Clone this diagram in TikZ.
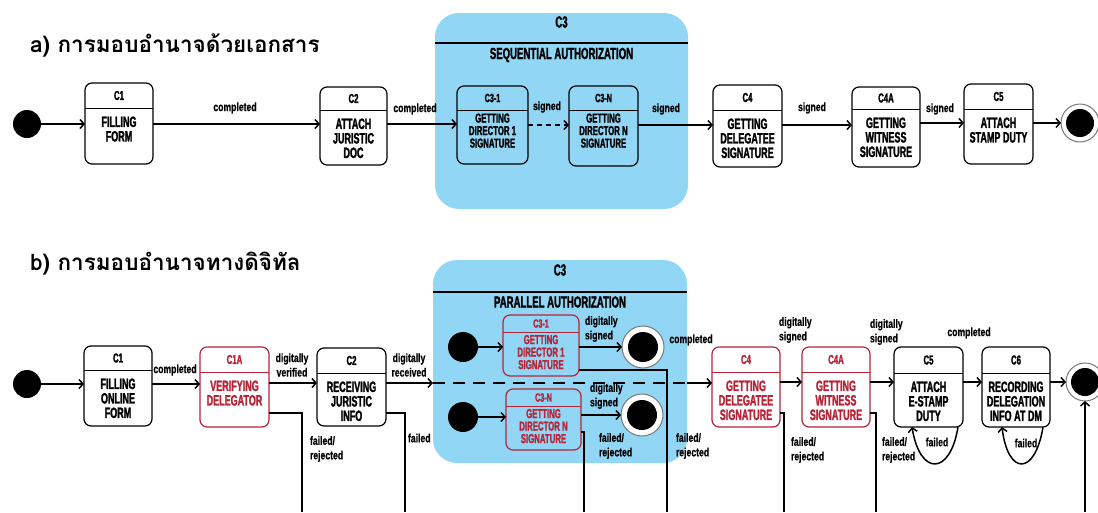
\documentclass[tikz,border=0pt]{standalone}
\usepackage{fontspec}
\usetikzlibrary{arrows.meta}
\newfontfamily\din{Liberation Sans}[FakeStretch=0.6, BoldFeatures={FakeBold=1.6}]
\newfontfamily\dinlbl{Liberation Sans}[FakeStretch=0.72, BoldFeatures={FakeBold=0.6}]
\newfontfamily\thaifont[Script=Thai]{Loma}
\definecolor{c3blue}{RGB}{146,214,245}
\definecolor{errred}{RGB}{183,36,56}
\definecolor{ringgray}{RGB}{120,120,120}

% state box: name, centre x, top y, width, height, divider offset, colour style, header
\newcommand{\stbox}[8]{%
  \node[stframe, #7, minimum width=#4, minimum height=#5, anchor=north] (#1) at (#2,#3) {};
  \coordinate (#1-d) at ([yshift=-#6]#1.north);
  \draw[#7, line width=1pt] (#1.west |- #1-d) -- (#1.east |- #1-d);
  \node[hdr, #7] (#1-h) at ([yshift={-#6/2}]#1.north) {#8};
}
% final state: outer ring and inner dot
\newcommand{\finst}[4]{%
  \node[circle, draw=ringgray, line width=1pt, fill=white, minimum size=#3] (#1) at #2 {};
  \node[circle, fill=black, minimum size=#4] (#1-in) at (#1.center) {};
}

\begin{document}
\begin{tikzpicture}[
  x=1pt, y=-1pt,
  every node/.style={inner sep=0pt, outer sep=0pt},
  stframe/.style={draw, rounded corners=7pt, line width=1.2pt},
  blackst/.style={color=black},
  redst/.style={color=errred},
  hdr/.style={font=\din\bfseries\fontsize{13}{13}\selectfont},
  body/.style={anchor=north, align=center, font=\din\bfseries\fontsize{15}{14.5}\selectfont},
  smallbody/.style={anchor=north, align=center, font=\din\bfseries\fontsize{13}{12.5}\selectfont},
  bighdr/.style={font=\din\bfseries\fontsize{16}{16}\selectfont},
  lbl/.style={align=center, font=\dinlbl\bfseries\fontsize{12}{14.5}\selectfont},
  lbll/.style={lbl, align=left, anchor=west},
  initst/.style={circle, fill=black, minimum size=#1},
  initst/.default=28pt,
  arr/.style={line width=1.5pt, -{Straight Barb[length=4pt,width=9pt]}},
  wire/.style={line width=1.5pt},
  container/.style={fill=c3blue, rounded corners=24pt, minimum width=#1},
  heading/.style={anchor=west, font=\thaifont\bfseries\fontsize{22.5}{22.5}\selectfont},
]
\useasboundingbox (0,0) rectangle (1098,512);

% ================= a) paper-based delegation =================
\node[heading] (ttla) at (30,45) {a) การมอบอำนาจด้วยเอกสาร};

\node[container=253pt, minimum height=196pt] (c3a) at (561.5,111) {};
\draw[line width=1.2pt] (c3a.west |- 0,43) -- (c3a.east |- 0,43);
\node[bighdr] (c3a-h) at (561.5,22) {C3};
\node[bighdr] (c3a-t) at (561.5,55) {SEQUENTIAL AUTHORIZATION};

\node[initst] (ia) at (27,124) {};

\stbox{c1a}{119}{83}{68}{81}{25}{blackst}{C1}
\node[body] (c1a-b) at ([yshift=-8.5]c1a-d) {FILLING\\FORM};

\stbox{c2a}{353.5}{87}{67}{78}{23}{blackst}{C2}
\node[body] (c2a-b) at ([yshift=-8.5]c2a-d) {ATTACH\\JURISTIC\\DOC};

\stbox{c31a}{492.5}{86}{71}{78}{24}{blackst}{\fontsize{12}{12}\selectfont C3-1}
\node[smallbody] (c31a-b) at ([yshift=-3.5]c31a-d) {GETTING\\DIRECTOR 1\\SIGNATURE};

\stbox{c3na}{603.5}{86}{69}{80}{24}{blackst}{\fontsize{12}{12}\selectfont C3-N}
\node[smallbody] (c3na-b) at ([yshift=-3.5]c3na-d) {GETTING\\DIRECTOR N\\SIGNATURE};

\stbox{c4a}{747.5}{85}{69}{82}{25}{blackst}{C4}
\node[body] (c4a-b) at ([yshift=-8.5]c4a-d) {GETTING\\DELEGATEE\\SIGNATURE};

\stbox{c4xa}{886}{87}{68}{80}{22}{blackst}{C4A}
\node[body] (c4xa-b) at ([yshift=-8.5]c4xa-d) {GETTING\\WITNESS\\SIGNATURE};

\stbox{c5a}{998.5}{84}{69}{80}{25}{blackst}{C5}
\node[body] (c5a-b) at ([yshift=-8.5]c5a-d) {ATTACH\\STAMP DUTY};

\finst{fa}{(1080,123)}{38pt}{28pt}

\draw[arr] (ia.east) -- (c1a.west |- ia.east);
\draw[arr] (c1a.east |- 0,124) -- (c2a.west |- 0,124);
\draw[arr] (c2a.east |- 0,124) -- (c31a.west |- 0,124);
\draw[arr, dash pattern=on 5pt off 4pt] (c31a.east |- 0,125) -- (c3na.west |- 0,125);
\draw[arr] (c3na.east |- 0,125) -- (c4a.west |- 0,125);
\draw[arr] (c4a.east |- 0,125) -- (c4xa.west |- 0,125);
\draw[arr] (c4xa.east |- 0,123) -- (c5a.west |- 0,123);
\draw[arr] (c5a.east |- fa.west) -- (fa.west);

\node[lbl] (la1) at (235,108) {completed};
\node[lbl] (la2) at (415,109) {completed};
\node[lbl] (la3) at (547,107) {signed};
\node[lbl] (la4) at (666,109) {signed};
\node[lbl] (la5) at (812,108) {signed};
\node[lbl] (la6) at (940,109) {signed};

% ================= b) digital delegation =================
\node[heading] (ttlb) at (30,264) {b) การมอบอำนาจทางดิจิทัล};

\node[container=254pt, minimum height=203pt] (c3b) at (560,361.5) {};
\draw[line width=1.2pt] (c3b.west |- 0,292) -- (c3b.east |- 0,292);
\node[bighdr] (c3b-h) at (560,270) {C3};
\node[bighdr] (c3b-t) at (560,302) {PARALLEL AUTHORIZATION};

\node[initst] (ib) at (27,384) {};

\stbox{c1b}{118}{346}{68}{80}{24}{blackst}{C1}
\node[body] (c1b-b) at ([yshift=-8.5]c1b-d) {FILLING\\ONLINE\\FORM};

\stbox{c1xb}{234.5}{347}{69}{80}{25}{redst}{C1A}
\node[body, redst] (c1xb-b) at ([yshift=-8.5]c1xb-d) {VERIFYING\\DELEGATOR};

\stbox{c2b}{351.5}{348}{69}{78}{25}{blackst}{C2}
\node[body] (c2b-b) at ([yshift=-8.5]c2b-d) {RECEIVING\\JURISTIC\\INFO};

% parallel branches inside C3
\node[initst=30pt] (i1b) at (463,347) {};
\stbox{c31b}{541}{315}{76}{61}{17}{redst}{\fontsize{12}{12}\selectfont C3-1}
\node[smallbody, redst] (c31b-b) at ([yshift=-3]c31b-d) {GETTING\\DIRECTOR 1\\SIGNATURE};
\finst{f1b}{(643,347)}{42pt}{30pt}

\node[initst=30pt] (i2b) at (463,417) {};
\stbox{c3nb}{543.5}{389}{75}{61}{17}{redst}{\fontsize{12}{12}\selectfont C3-N}
\node[smallbody, redst] (c3nb-b) at ([yshift=-3]c3nb-d) {GETTING\\DIRECTOR N\\SIGNATURE};
\finst{f2b}{(642,415)}{42pt}{30pt}

\stbox{c4b}{746}{347}{68}{80}{25}{redst}{C4}
\node[body, redst] (c4b-b) at ([yshift=-8.5]c4b-d) {GETTING\\DELEGATEE\\SIGNATURE};

\stbox{c4xb}{836}{347}{68}{80}{25}{redst}{C4A}
\node[body, redst] (c4xb-b) at ([yshift=-8.5]c4xb-d) {GETTING\\WITNESS\\SIGNATURE};

\stbox{c5b}{928.5}{347}{69}{80}{26}{blackst}{C5}
\node[body] (c5b-b) at ([yshift=-8.5]c5b-d) {ATTACH\\E-STAMP\\DUTY};

\stbox{c6b}{1016}{347}{68}{80}{26}{blackst}{C6}
\node[body] (c6b-b) at ([yshift=-8.5]c6b-d) {RECORDING\\DELEGATION\\INFO AT DM};

\finst{fb}{(1085,382)}{38pt}{28pt}

% exits running off the lower edge
\coordinate (x1) at (302,512);
\coordinate (x2) at (405,512);
\coordinate (x3) at (584,512);
\coordinate (x4) at (667,512);
\coordinate (x5) at (784,512);
\coordinate (x6) at (876,512);
\coordinate (x7) at (1085,512);

% main flow
\draw[arr] (ib.east) -- (c1b.west |- ib.east);
\draw[arr] (c1b.east |- 0,384) -- (c1xb.west |- 0,384);
\draw[arr] (c1xb.east |- 0,383) -- (c2b.west |- 0,383);
\draw[arr] (c2b.east |- 0,383) -- (c3b.west |- 0,383);
\draw[wire, dash pattern=on 12pt off 8pt] (c3b.west |- 0,383) -- (c3b.east |- 0,383);
\draw[arr] (c3b.east |- 0,383) -- (c4b.west |- 0,383);
\draw[arr] (c4b.east |- 0,382) -- (c4xb.west |- 0,382);
\draw[arr] (c4xb.east |- 0,382) -- (c5b.west |- 0,382);
\draw[arr] (c5b.east |- 0,382) -- (c6b.west |- 0,382);
\draw[arr] (c6b.east |- fb.west) -- (fb.west);

% inside C3
\draw[arr] (i1b.east) -- (c31b.west |- i1b.east);
\draw[arr] (c31b.east |- f1b.west) -- (f1b.west);
\draw[arr] (i2b.east) -- (c3nb.west |- i2b.east);
\draw[arr] (c3nb.east |- f2b.west) -- (f2b.west);

% failure exits
\draw[wire] (c1xb.east |- 0,413) -| (x1);
\draw[wire] (c2b.east |- 0,413) -| (x2);
\draw[wire] (c3nb.east |- 0,432) -| (x3);
\draw[wire] (c31b.east |- 0,370) -| (x4);
\draw[wire] (c4b.east |- 0,413) -| (x5);
\draw[wire] (c4xb.east |- 0,413) -| (x6);
\draw[arr] (x7) -- (fb.south);

% retry loops
\draw[arr] ([xshift=-5]c5b.south east) .. controls (950,476) and (920,476) .. ([xshift=18]c5b.south west);
\draw[arr] ([xshift=-7]c6b.south east) .. controls (1035,476) and (1008,476) .. ([xshift=20]c6b.south west);

% transition labels
\node[lbl] (lb1) at (175,370) {completed};
\node[lbl] (lb2) at (292,365) {digitally\\verified};
\node[lbl] (lb3) at (409,365) {digitally\\received};
\node[lbll] (lb4) at (310,449) {failed/\\rejected};
\node[lbll] (lb5) at (408,438) {failed};
\node[lbll] (lb6) at (585,329) {digitally\\signed};
\node[lbll] (lb7) at (590,396) {digitally\\signed};
\node[lbll] (lb8) at (599,446) {failed/\\rejected};
\node[lbl] (lb9) at (691,340) {completed};
\node[lbll] (lb10) at (676,446) {failed/\\rejected};
\node[lbll] (lb11) at (779,330) {digitally\\signed};
\node[lbll] (lb12) at (791,450) {failed/\\rejected};
\node[lbll] (lb13) at (870,332) {digitally\\signed};
\node[lbll] (lb14) at (882,450) {failed/\\rejected};
\node[lbl] (lb15) at (937,442) {failed};
\node[lbl] (lb16) at (969,333) {completed};
\node[lbl] (lb17) at (1026,443) {failed};
\end{tikzpicture}
\end{document}
